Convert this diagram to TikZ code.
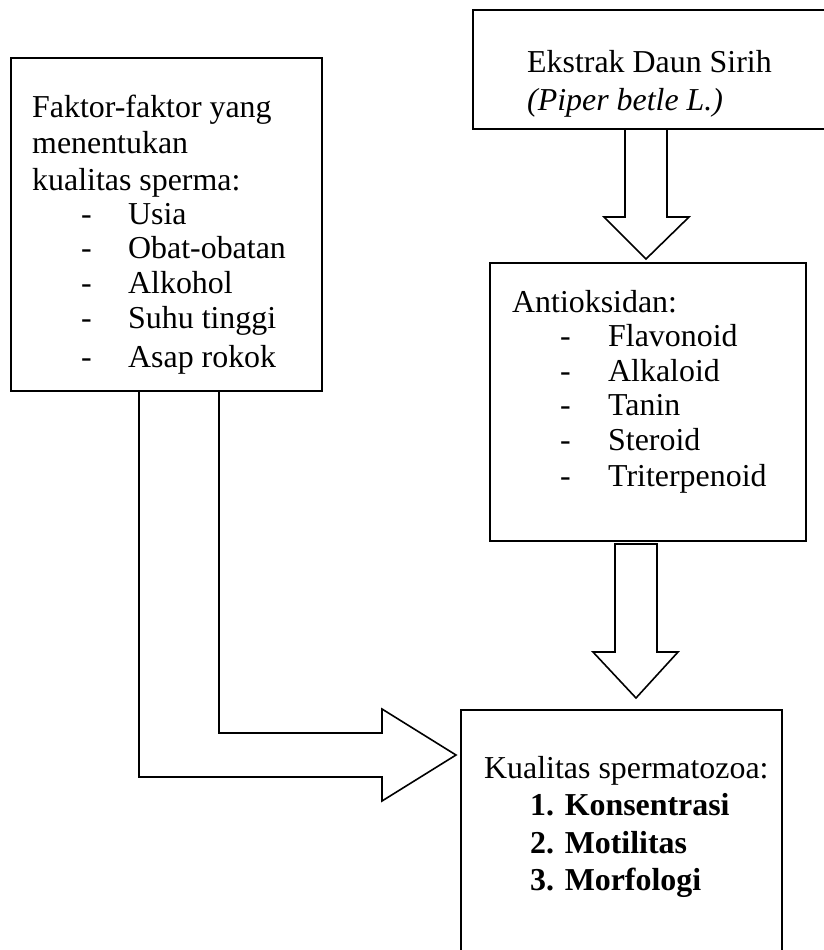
\documentclass[tikz,border=0pt]{standalone}
\usepackage{fontspec}
\setmainfont{Liberation Serif}
\usetikzlibrary{positioning}

\newcommand{\boxfont}{\fontsize{31.9}{34.5}\selectfont}

\begin{document}
\begin{tikzpicture}[x=1pt, y=-1pt,
    box/.style={draw, line width=2pt, inner sep=0pt, outer sep=0pt, anchor=north west},
    boxtext/.style={anchor=base west, inner sep=0pt, font=\boxfont},
    blk/.style={draw, line width=1.6pt, line join=miter}]
  \path[use as bounding box, clip] (0,0) rectangle (824,950);

  % boxes
  \node[box, minimum width=311pt, minimum height=333pt] (faktor) at (11,58) {};
  \node[box, minimum width=360pt, minimum height=119pt] (ekstrak) at (473,10) {};
  \node[box, minimum width=316pt, minimum height=278pt] (antiok) at (490,263) {};
  \node[box, minimum width=321pt, minimum height=250pt] (kualitas) at (461,710) {};

  % texts
  \node[boxtext] (faktortxt) at (32,117) {\begin{tabular}[t]{@{}l@{}}
      Faktor-faktor yang\\[2pt]
      menentukan\\[2pt]
      kualitas sperma:\\
      \hspace*{49pt}\makebox[47pt][l]{-}Usia\\
      \hspace*{49pt}\makebox[47pt][l]{-}Obat-obatan\\
      \hspace*{49pt}\makebox[47pt][l]{-}Alkohol\\
      \hspace*{49pt}\makebox[47pt][l]{-}Suhu tinggi\\[5pt]
      \hspace*{49pt}\makebox[47pt][l]{-}Asap rokok
    \end{tabular}};
  \node[boxtext] (ekstraktxt) at (527,73) {\begin{tabular}[t]{@{}l@{}}
      Ekstrak Daun Sirih\\[2.5pt]
      \textit{(Piper betle L.)}
    \end{tabular}};
  \node[boxtext] (antioktxt) at (512,312) {\begin{tabular}[t]{@{}l@{}}
      Antioksidan:\\
      \hspace*{48pt}\makebox[48pt][l]{-}Flavonoid\\
      \hspace*{48pt}\makebox[48pt][l]{-}Alkaloid\\
      \hspace*{48pt}\makebox[48pt][l]{-}Tanin\\
      \hspace*{48pt}\makebox[48pt][l]{-}Steroid\\[2pt]
      \hspace*{48pt}\makebox[48pt][l]{-}Triterpenoid
    \end{tabular}};
  \node[boxtext] (kualitastxt) at (484,778) {\begin{tabular}[t]{@{}l@{}}
      Kualitas spermatozoa:\\[3pt]
      \hspace*{46pt}\textbf{1. Konsentrasi}\\[3pt]
      \hspace*{46pt}\textbf{2. Motilitas}\\[3pt]
      \hspace*{46pt}\textbf{3. Morfologi}
    \end{tabular}};

  % block arrows
  \draw[blk] (ekstrak.south -| 625,0) -- (625,217) -- (604,217) -- (646,259)
    -- (689,217) -- (667,217) -- (ekstrak.south -| 667,0) -- cycle;
  \draw[blk] (615,544) -- (615,652) -- (593,652) -- (636,698)
    -- (678,652) -- (657,652) -- (657,544) -- cycle;
  \draw[blk] (faktor.south -| 139,0) -- (139,777) -- (382,777) -- (382,801)
    -- (456,755) -- (382,709) -- (382,733) -- (219,733) -- (faktor.south -| 219,0) -- cycle;
\end{tikzpicture}
\end{document}
